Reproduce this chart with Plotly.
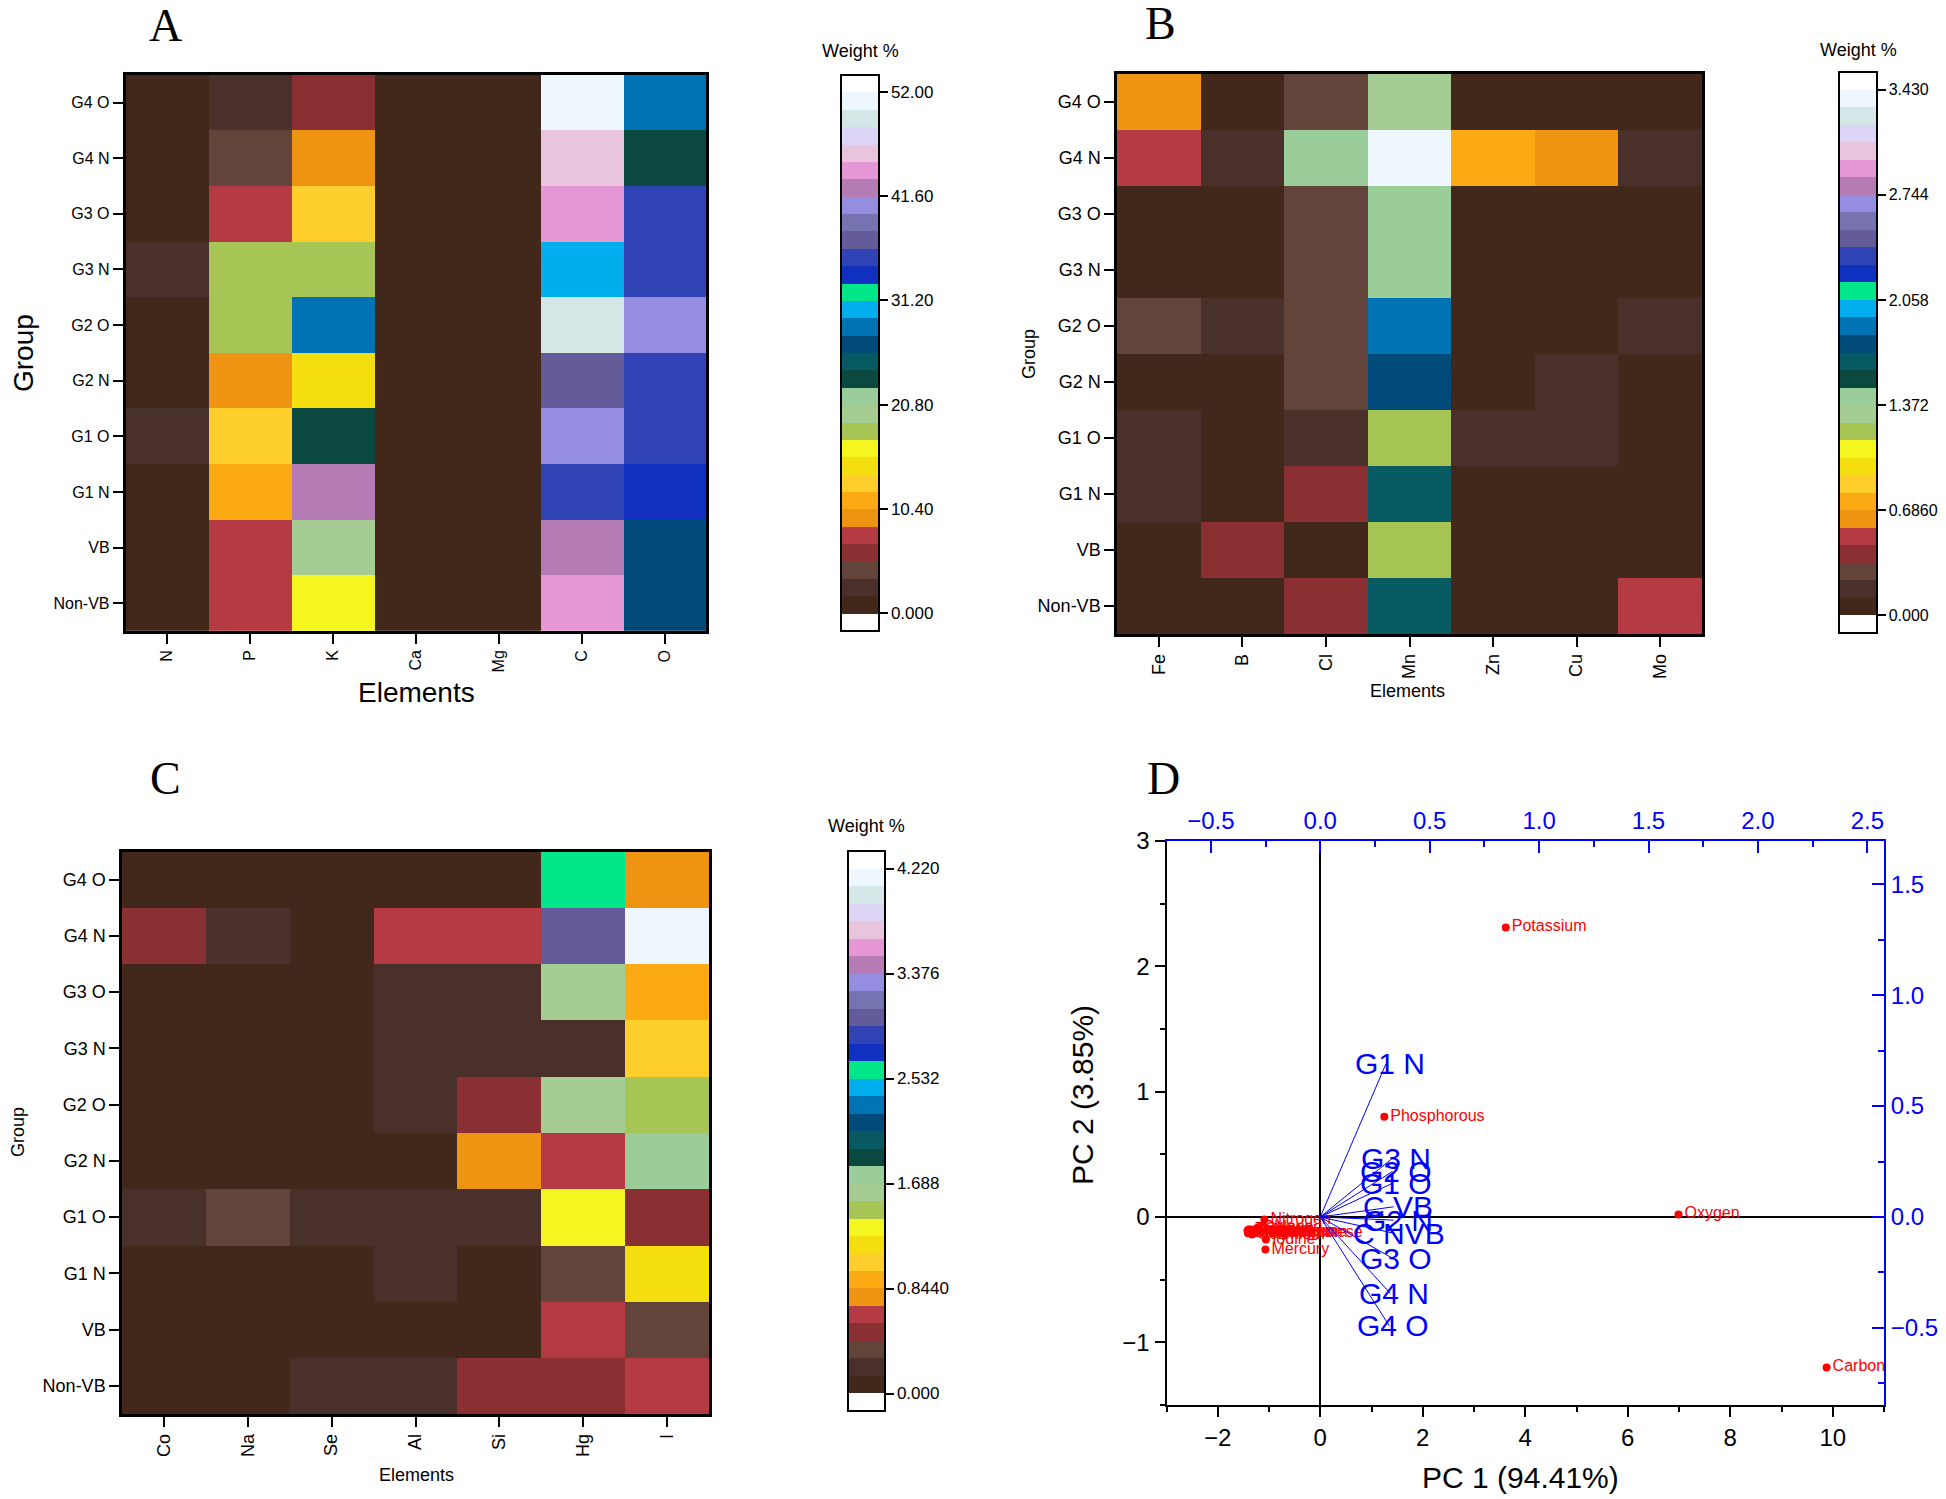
import plotly.graph_objects as go

# Groups, bottom row first
groups = ["Non-VB", "VB", "G1 N", "G1 O", "G2 N", "G2 O", "G3 N", "G3 O", "G4 N", "G4 O"]

# Panel A - major elements (weight %), one row per group
elements_a = ["N", "P", "K", "Ca", "Mg", "C", "O"]
weight_a = [
    [0.6, 7.8, 16.5, 0.4, 0.3, 44.2, 26.9],
    [0.6, 7.8, 19.9, 0.4, 0.3, 42.5, 26.9],
    [0.7, 11.3, 42.5, 0.4, 0.3, 35.5, 33.8],
    [2.4, 13.0, 23.4, 0.4, 0.3, 40.7, 35.5],
    [0.7, 9.5, 14.7, 0.4, 0.3, 37.3, 35.5],
    [0.8, 18.2, 28.6, 0.4, 0.3, 49.4, 40.7],
    [2.1, 18.2, 18.2, 0.4, 0.3, 30.3, 35.5],
    [0.6, 7.8, 13.0, 0.4, 0.3, 44.2, 35.5],
    [0.5, 4.3, 9.5, 0.4, 0.3, 45.9, 23.4],
    [0.6, 2.6, 6.1, 0.4, 0.3, 51.1, 28.6],
]

# Panel B - trace elements
elements_b = ["Fe", "B", "Cl", "Mn", "Zn", "Cu", "Mo"]
weight_b = [
    [0.05, 0.06, 0.40, 1.66, 0.04, 0.05, 0.51],
    [0.06, 0.40, 0.05, 1.20, 0.04, 0.05, 0.06],
    [0.17, 0.05, 0.40, 1.66, 0.04, 0.05, 0.06],
    [0.17, 0.05, 0.17, 1.20, 0.17, 0.17, 0.06],
    [0.06, 0.05, 0.29, 1.77, 0.04, 0.17, 0.06],
    [0.29, 0.17, 0.29, 1.89, 0.04, 0.05, 0.17],
    [0.06, 0.05, 0.29, 1.43, 0.04, 0.05, 0.06],
    [0.06, 0.05, 0.29, 1.43, 0.04, 0.05, 0.06],
    [0.51, 0.17, 1.43, 3.37, 0.74, 0.63, 0.17],
    [0.63, 0.05, 0.29, 1.31, 0.04, 0.05, 0.06],
]

# Panel C - other elements
elements_c = ["Co", "Na", "Se", "Al", "Si", "Hg", "I"]
weight_c = [
    [0.07, 0.06, 0.21, 0.21, 0.49, 0.49, 0.63],
    [0.07, 0.06, 0.05, 0.06, 0.07, 0.63, 0.35],
    [0.07, 0.06, 0.05, 0.21, 0.07, 0.35, 1.20],
    [0.21, 0.35, 0.21, 0.21, 0.21, 1.34, 0.49],
    [0.07, 0.06, 0.05, 0.06, 0.77, 0.63, 1.76],
    [0.07, 0.06, 0.05, 0.21, 0.49, 1.62, 1.48],
    [0.07, 0.06, 0.05, 0.21, 0.21, 0.21, 1.05],
    [0.07, 0.06, 0.05, 0.21, 0.21, 1.62, 0.91],
    [0.49, 0.21, 0.05, 0.63, 0.63, 3.02, 4.15],
    [0.07, 0.06, 0.05, 0.06, 0.07, 2.60, 0.77],
]

# colour scale max and colourbar tick labels
max_a, max_b, max_c = 52.0, 3.43, 4.22
ticktext_a = ["0.000", "10.40", "20.80", "31.20", "41.60", "52.00"]
ticktext_b = ["0.000", "0.6860", "1.372", "2.058", "2.744", "3.430"]
ticktext_c = ["0.000", "0.8440", "1.688", "2.532", "3.376", "4.220"]

# 30 colour levels, low -> high
band_colors = [
    "#42281a", "#4a302b", "#63443b", "#8a3033", "#b43a44", "#ee9412",
    "#fcaa14", "#fecf2c", "#f5de10", "#f5f520", "#a6c555", "#a5cd93",
    "#9bcd9a", "#0a4840", "#085a62", "#004a7a", "#0073b4", "#00aeed",
    "#00e688", "#1030c0", "#3043b5", "#645b9b", "#7674b0", "#958de0",
    "#b57bb4", "#e596d5", "#e8c5dd", "#ddd5f5", "#d5e6e6", "#eef6fe",
]

# Panel D - PCA biplot
element_names = ["Nitrogen", "Phosphorous", "Potassium", "Calcium", "Magnesium", "Carbon",
                 "Oxygen", "Iron", "Boron", "Chlorine", "Manganese", "Zinc", "Copper",
                 "Molybdenum", "Cobalt", "Sodium", "Selenium", "Aluminium", "Silicon",
                 "Mercury", "Iodine"]
pc1 = [-1.09, 1.25, 3.62, -1.36, -1.38, 9.88, 6.99, -1.30, -1.41, -1.24, -0.92, -1.40,
       -1.39, -1.37, -1.42, -1.35, -1.33, -1.28, -1.18, -1.07, -1.06]
pc2 = [-0.02, 0.80, 2.31, -0.10, -0.12, -1.20, 0.02, -0.11, -0.13, -0.09, -0.13, -0.10,
       -0.11, -0.13, -0.11, -0.12, -0.14, -0.12, -0.10, -0.26, -0.18]

group_vectors = ["G1 N", "G3 N", "G2 O", "G1 O", "C VB", "G2 N", "C NVB", "G3 O", "G4 N", "G4 O"]
load1 = [0.30, 0.33, 0.33, 0.33, 0.335, 0.335, 0.34, 0.33, 0.32, 0.315]
load2 = [0.69, 0.265, 0.205, 0.152, 0.046, -0.014, -0.074, -0.186, -0.344, -0.49]

# page body has an 8px margin, so the figure is drawn 8px smaller and offset
OFF = 8
W, H = 1946 - OFF, 1499 - OFF
FONT = "Liberation Sans, Arial, sans-serif"
BLUE = "#0000ff"


def fx(px):
    return (px - OFF) / W


def fy(py):
    return 1 - (py - OFF) / H


def band_scale(colors):
    full = ["#ffffff"] + colors + ["#ffffff"]
    n = len(full)
    scale = []
    for i, c in enumerate(full):
        scale.append([i / n, c])
        scale.append([(i + 1) / n, c])
    return scale


scale = band_scale(band_colors)


def heat(z, x, vmax, ticktext, xa, ya, cb_left, cb_top, cb_bottom, cb_thick, tsize=17):
    step = vmax / len(band_colors)
    return go.Heatmap(
        z=z, x=x, y=groups, xaxis=xa, yaxis=ya,
        colorscale=scale, zmin=-step, zmax=vmax + step,
        colorbar=dict(
            x=fx(cb_left), xanchor="left", xpad=0,
            y=fy(cb_top), yanchor="top", ypad=0,
            len=(cb_bottom - cb_top) / H, lenmode="fraction",
            thickness=cb_thick, outlinewidth=2, outlinecolor="black",
            tickvals=[vmax * k / 5 for k in range(6)], ticktext=ticktext,
            ticks="outside", ticklen=8, tickwidth=2, tickcolor="black",
            tickfont=dict(size=tsize, color="black", family=FONT),
        ),
    )


fig = go.Figure()
fig.add_trace(heat(weight_a, elements_a, max_a, ticktext_a, "x", "y", 841, 74.5, 630, 38))
fig.add_trace(heat(weight_b, elements_b, max_b, ticktext_b, "x2", "y2", 1839, 72, 633, 38, 16))
fig.add_trace(heat(weight_c, elements_c, max_c, ticktext_c, "x3", "y3", 848, 851, 1411, 37))

# PCA scores
fig.add_trace(go.Scatter(
    x=pc1, y=pc2, mode="markers+text", text=element_names, textposition="middle right",
    marker=dict(color="#ff0000", size=8), textfont=dict(color="#ff0000", size=16, family=FONT),
    xaxis="x4", yaxis="y4", showlegend=False, cliponaxis=False,
))

# loading vectors
vx, vy = [], []
for a, b in zip(load1, load2):
    vx += [0, a, None]
    vy += [0, b, None]
fig.add_trace(go.Scatter(
    x=vx, y=vy, mode="lines", line=dict(color=BLUE, width=1),
    xaxis="x5", yaxis="y5", showlegend=False,
))

heat_axis = dict(showline=True, mirror=True, linecolor="black", linewidth=2.5,
                 ticks="outside", ticklen=10, tickwidth=2, tickcolor="black",
                 showgrid=False, zeroline=False)


def hx(domain, size):
    d = dict(heat_axis)
    d.update(domain=domain, tickangle=-90, tickfont=dict(size=size, color="black", family=FONT))
    return d


def hy(domain, size, anchor):
    d = dict(heat_axis)
    d.update(domain=domain, anchor=anchor, tickfont=dict(size=size, color="black", family=FONT))
    return d


r_x, r_y = 4.27, 1.77
fig.update_layout(
    width=W, height=H, margin=dict(l=0, r=0, t=0, b=0, autoexpand=False),
    paper_bgcolor="white", plot_bgcolor="white", showlegend=False,
    font=dict(family=FONT, color="black"),
    xaxis=hx([fx(125.5), fx(706)], 16) | dict(anchor="y"),
    yaxis=hy([fy(631), fy(74.8)], 16, "x"),
    xaxis2=hx([fx(1117), fx(1702)], 18) | dict(anchor="y2"),
    yaxis2=hy([fy(634), fy(73.5)], 18, "x2"),
    xaxis3=hx([fx(122), fx(709)], 18) | dict(anchor="y3"),
    yaxis3=hy([fy(1414), fy(851.5)], 18, "x3"),
    xaxis4=dict(
        domain=[fx(1166.5), fx(1884)], anchor="y4", range=[-3, 11], dtick=2,
        showline=True, linecolor="black", linewidth=2, showgrid=False,
        zeroline=True, zerolinecolor="black", zerolinewidth=2,
        ticks="outside", ticklen=10, tickwidth=2, tickcolor="black",
        minor=dict(dtick=1, ticks="outside", ticklen=5, tickwidth=2, tickcolor="black"),
        tickfont=dict(size=24, color="black", family=FONT),
    ),
    yaxis4=dict(
        domain=[fy(1405), fy(841)], anchor="x4", range=[-1.5, 3], dtick=1,
        showline=True, linecolor="black", linewidth=2, showgrid=False,
        zeroline=True, zerolinecolor="black", zerolinewidth=2,
        ticks="outside", ticklen=10, tickwidth=2, tickcolor="black",
        minor=dict(dtick=0.5, ticks="outside", ticklen=5, tickwidth=2, tickcolor="black"),
        tickfont=dict(size=24, color="black", family=FONT),
    ),
    xaxis5=dict(
        overlaying="x4", anchor="y4", side="top", range=[-3 / r_x, 11 / r_x], dtick=0.5,
        tickformat=".1f", showline=True, linecolor=BLUE, linewidth=2, showgrid=False,
        zeroline=False, ticks="inside", ticklen=12, tickwidth=2, tickcolor=BLUE,
        minor=dict(dtick=0.25, ticks="inside", ticklen=6, tickwidth=2, tickcolor=BLUE),
        tickfont=dict(size=24, color=BLUE, family=FONT),
    ),
    yaxis5=dict(
        overlaying="y4", anchor="x4", side="right", range=[-1.5 / r_y, 3 / r_y], dtick=0.5,
        tickformat=".1f", showline=True, linecolor=BLUE, linewidth=2, showgrid=False,
        zeroline=False, ticks="inside", ticklen=12, tickwidth=2, tickcolor=BLUE,
        minor=dict(dtick=0.25, ticks="inside", ticklen=6, tickwidth=2, tickcolor=BLUE),
        tickfont=dict(size=24, color=BLUE, family=FONT),
    ),
)

# group labels at vector tips
for name, a, b in zip(group_vectors, load1, load2):
    fig.add_annotation(x=a, y=b, xref="x5", yref="y5", text=name, showarrow=False,
                       xshift=4, font=dict(size=30, color=BLUE, family=FONT))


def label(text, x, y, size, angle=0, family=FONT):
    fig.add_annotation(x=fx(x), y=fy(y), xref="paper", yref="paper", text=text,
                       showarrow=False, textangle=angle, xanchor="center", yanchor="middle",
                       borderpad=0, font=dict(size=size, color="black", family=family))


serif = "Liberation Serif, Times New Roman, serif"
for t, x, y in [("A", 165, 26), ("B", 1160, 24), ("C", 165, 778), ("D", 1163, 779)]:
    label(t, x, y, 46, family=serif)

for x, y in [(860, 51), (1858, 50), (866, 826)]:
    label("Weight %", x, y, 18)

label("Group", 24, 353, 28, -90)
label("Elements", 416, 692, 28)
label("Group", 1029, 354, 18, -90)
label("Elements", 1407, 691, 18)
label("Group", 18, 1132, 18, -90)
label("Elements", 416, 1475, 18)
label("PC 1 (94.41%)", 1520, 1477, 30)
label("PC 2 (3.85%)", 1082, 1095, 30, -90)

fig.write_html("out.html")
